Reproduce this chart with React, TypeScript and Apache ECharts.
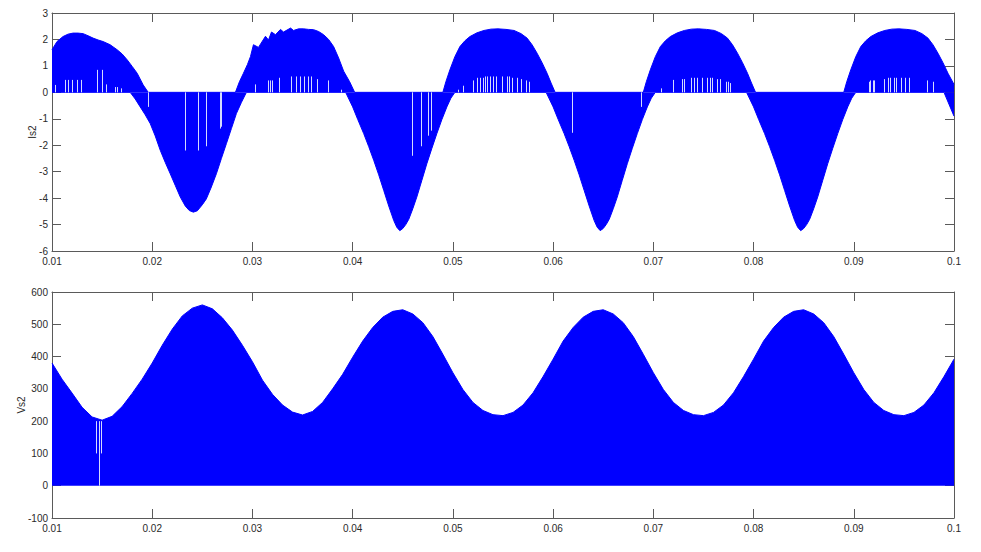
import React, { useEffect, useRef } from "react";
import * as echarts from "echarts";

// ---------- Is2 (top) : positive envelope ----------
const is2UpperT = [
  0.0100, 0.0105, 0.0111, 0.0116, 0.0121, 0.0126, 0.0131, 0.0136, 0.0141, 0.0146, 0.0151, 0.0158, 0.0165, 0.0170, 0.0175, 0.0180, 0.0185, 0.0191, 0.0196,
  0.0283, 0.0287, 0.0291, 0.0295, 0.0298, 0.0301, 0.0306, 0.0313, 0.0316, 0.0319, 0.0323, 0.0328, 0.0331, 0.0338, 0.0341, 0.0346, 0.0351, 0.0356, 0.0361, 0.0366, 0.0371, 0.0376, 0.0381, 0.0386, 0.0391, 0.0397, 0.0402,
  0.0490, 0.0493, 0.0497, 0.0502, 0.0507, 0.0512, 0.0517, 0.0524, 0.0531, 0.0538, 0.0545, 0.0553, 0.0561, 0.0568, 0.0574, 0.0579, 0.0584, 0.0589, 0.0594, 0.0598, 0.0602,
  0.0690, 0.0693, 0.0697, 0.0702, 0.0707, 0.0712, 0.0717, 0.0724, 0.0731, 0.0738, 0.0745, 0.0753, 0.0761, 0.0768, 0.0774, 0.0779, 0.0784, 0.0789, 0.0794, 0.0798, 0.0802,
  0.0890, 0.0893, 0.0897, 0.0902, 0.0907, 0.0912, 0.0917, 0.0924, 0.0931, 0.0938, 0.0945, 0.0953, 0.0961, 0.0968, 0.0974, 0.0979, 0.0984, 0.0989, 0.0994, 0.1000,
];
const is2UpperV = [
  1.61, 1.92, 2.11, 2.20, 2.24, 2.24, 2.22, 2.14, 2.05, 1.98, 1.92, 1.80, 1.61, 1.45, 1.23, 0.98, 0.72, 0.28, 0,
  0, 0.40, 0.72, 1.05, 1.35, 1.80, 1.70, 2.12, 1.98, 2.28, 2.18, 2.38, 2.28, 2.43, 2.34, 2.40, 2.40, 2.38, 2.37, 2.30, 2.18, 2.00, 1.73, 1.30, 0.80, 0.40, 0,
  0, 0.40, 0.85, 1.35, 1.73, 1.95, 2.11, 2.25, 2.34, 2.39, 2.40, 2.38, 2.34, 2.22, 2.05, 1.80, 1.48, 1.12, 0.72, 0.35, 0,
  0, 0.40, 0.85, 1.35, 1.73, 1.95, 2.11, 2.25, 2.34, 2.39, 2.40, 2.38, 2.34, 2.22, 2.05, 1.80, 1.48, 1.12, 0.72, 0.35, 0,
  0, 0.40, 0.85, 1.35, 1.73, 1.95, 2.11, 2.25, 2.34, 2.39, 2.40, 2.38, 2.34, 2.22, 2.05, 1.80, 1.48, 1.12, 0.72, 0.30,
];

// ---------- Is2 (top) : negative envelope ----------
const is2LowerT = [
  0.0100, 0.0178, 0.0183, 0.0188, 0.0193, 0.0198, 0.0203, 0.0208, 0.0213, 0.0218, 0.0223, 0.0228, 0.0233, 0.0237, 0.0241, 0.0245, 0.0250, 0.0254, 0.0259, 0.0264, 0.0269, 0.0274, 0.0279, 0.0284, 0.0289, 0.0294,
  0.0393, 0.0400, 0.0405, 0.0411, 0.0416, 0.0421, 0.0426, 0.0431, 0.0436, 0.0441, 0.0444, 0.0447, 0.0450, 0.0453, 0.0456, 0.0460, 0.0464, 0.0469, 0.0474, 0.0479, 0.0484, 0.0489, 0.0494, 0.0498, 0.0502,
  0.0593, 0.0600, 0.0605, 0.0611, 0.0616, 0.0621, 0.0626, 0.0631, 0.0636, 0.0641, 0.0644, 0.0647, 0.0650, 0.0653, 0.0656, 0.0660, 0.0664, 0.0669, 0.0674, 0.0679, 0.0684, 0.0689, 0.0694, 0.0698, 0.0702,
  0.0793, 0.0800, 0.0805, 0.0811, 0.0816, 0.0821, 0.0826, 0.0831, 0.0836, 0.0841, 0.0844, 0.0847, 0.0850, 0.0853, 0.0856, 0.0860, 0.0864, 0.0869, 0.0874, 0.0879, 0.0884, 0.0889, 0.0894, 0.0898, 0.0902,
  0.0990, 0.1000,
];
const is2LowerV = [
  0, 0, -0.25, -0.55, -0.85, -1.18, -1.65, -2.19, -2.65, -3.08, -3.52, -3.96, -4.30, -4.47, -4.53, -4.48, -4.25, -4.03, -3.58, -3.08, -2.50, -1.94, -1.37, -0.80, -0.38, 0,
  0, -0.55, -1.02, -1.56, -2.05, -2.57, -3.12, -3.71, -4.30, -4.85, -5.10, -5.23, -5.15, -5.00, -4.80, -4.40, -3.96, -3.33, -2.70, -2.12, -1.56, -1.03, -0.55, -0.22, 0,
  0, -0.55, -1.02, -1.56, -2.05, -2.57, -3.12, -3.71, -4.30, -4.85, -5.10, -5.23, -5.15, -5.00, -4.80, -4.40, -3.96, -3.33, -2.70, -2.12, -1.56, -1.03, -0.55, -0.22, 0,
  0, -0.55, -1.02, -1.56, -2.05, -2.57, -3.12, -3.71, -4.30, -4.85, -5.10, -5.23, -5.15, -5.00, -4.80, -4.40, -3.96, -3.33, -2.70, -2.12, -1.56, -1.03, -0.55, -0.22, 0,
  0, -0.90,
];

// ---------- Is2 : thin switching gaps (time, reach from 0) ----------
const is2GapT = [
  0.0103, 0.0113, 0.0116, 0.0120, 0.0125, 0.0129, 0.0145, 0.0150, 0.0154, 0.0163, 0.0165, 0.0169,
  0.0196, 0.0233, 0.0246, 0.0254, 0.0268, 0.0269,
  0.0303, 0.0316, 0.0318, 0.0320, 0.0327, 0.0339, 0.0344, 0.0348, 0.0352, 0.0356, 0.0359, 0.0365, 0.0376, 0.0389,
  0.0459, 0.0468, 0.0475, 0.0478,
  0.0505, 0.0510, 0.0520, 0.0524, 0.0527, 0.0530, 0.0532, 0.0534, 0.0537, 0.0540, 0.0543, 0.0549, 0.0554, 0.0556, 0.0559, 0.0564, 0.0568, 0.0573, 0.0576,
  0.0619, 0.0688,
  0.0708, 0.0720, 0.0729, 0.0731, 0.0738, 0.0741, 0.0744, 0.0749, 0.0754, 0.0757, 0.0759, 0.0764, 0.0767, 0.0773, 0.0775, 0.0777,
  0.0915, 0.0916, 0.0919, 0.0920, 0.0930, 0.0934, 0.0936, 0.0940, 0.0942, 0.0947, 0.0951, 0.0955, 0.0973, 0.0979,
];
const is2GapV = [
  0.28, 0.47, 0.47, 0.47, 0.47, 0.47, 0.85, 0.85, 0.30, 0.20, 0.20, 0.15,
  -0.55, -2.20, -2.20, -2.04, -1.37, -1.30,
  0.30, 0.45, 0.45, 0.45, 0.55, 0.60, 0.60, 0.60, 0.60, 0.60, 0.60, 0.50, 0.45, 0.10,
  -2.40, -2.04, -1.64, -1.45,
  0.10, 0.25, 0.45, 0.55, 0.55, 0.55, 0.60, 0.60, 0.60, 0.60, 0.60, 0.60, 0.60, 0.60, 0.55, 0.55, 0.50, 0.45, 0.40,
  -1.53, -0.55,
  0.15, 0.47, 0.50, 0.50, 0.55, 0.55, 0.55, 0.55, 0.55, 0.55, 0.55, 0.50, 0.50, 0.40, 0.40, 0.35,
  0.40, 0.45, 0.45, 0.45, 0.50, 0.55, 0.55, 0.55, 0.55, 0.55, 0.55, 0.55, 0.45, 0.40,
];

// ---------- Vs2 (bottom) : envelope ----------
const vs2T = [
  0.010, 0.011, 0.012, 0.013, 0.014, 0.015, 0.016, 0.017, 0.018, 0.019,
  0.020, 0.021, 0.022, 0.023, 0.024, 0.025, 0.026, 0.027, 0.028, 0.029,
  0.030, 0.031, 0.032, 0.033, 0.034, 0.035, 0.036, 0.037, 0.038, 0.039,
  0.040, 0.041, 0.042, 0.043, 0.044, 0.045, 0.046, 0.047, 0.048, 0.049,
  0.050, 0.051, 0.052, 0.053, 0.054, 0.055, 0.056, 0.057, 0.058, 0.059,
  0.060, 0.061, 0.062, 0.063, 0.064, 0.065, 0.066, 0.067, 0.068, 0.069,
  0.070, 0.071, 0.072, 0.073, 0.074, 0.075, 0.076, 0.077, 0.078, 0.079,
  0.080, 0.081, 0.082, 0.083, 0.084, 0.085, 0.086, 0.087, 0.088, 0.089,
  0.090, 0.091, 0.092, 0.093, 0.094, 0.095, 0.096, 0.097, 0.098, 0.099,
  0.100,
];
const vs2V = [
  380, 330, 287, 243, 213, 203, 215, 245, 286, 330,
  380, 435, 485, 526, 550, 560, 548, 520, 482, 435,
  384, 327, 283, 250, 228, 219, 230, 258, 300, 345,
  398, 448, 490, 522, 540, 545, 532, 505, 462, 407,
  350, 298, 258, 233, 220, 217, 227, 250, 288, 338,
  392, 448, 490, 522, 540, 545, 532, 505, 462, 407,
  350, 298, 258, 233, 220, 217, 227, 250, 288, 338,
  392, 448, 490, 522, 540, 545, 532, 505, 462, 407,
  350, 298, 258, 233, 220, 217, 227, 250, 288, 338,
  392,
];

// Vs2 gaps: time, from, to
const vs2GapT = [0.01446, 0.01472, 0.01496];
const vs2GapFrom = [200, 200, 200];
const vs2GapTo = [100, 0, 100];

// axes
const xMin = 0.01;
const xMax = 0.1;
const xStep = 0.01;
const is2Min = -6;
const is2Max = 3;
const is2Step = 1;
const vs2Min = -100;
const vs2Max = 600;
const vs2Step = 100;

const BLUE = "#0000ff";
const AXIS = "#5a5a5a";
const TEXT = "#2a2a2a";
const FONT = "'Liberation Sans', Arial, sans-serif";

const zip = (t: number[], v: number[]) => t.map((x, i) => [x, v[i]]);

function mkX(gridIndex: number, position: string, labels: boolean) {
  return {
    type: "value",
    gridIndex,
    position,
    min: xMin,
    max: xMax,
    interval: xStep,
    axisLine: { show: true, onZero: false, lineStyle: { color: AXIS, width: 1 } },
    axisTick: { show: true, inside: true, length: 9, lineStyle: { color: AXIS, width: 1 } },
    axisLabel: {
      show: labels,
      margin: 5,
      color: TEXT,
      fontSize: 10,
      fontFamily: FONT,
      showMinLabel: true,
      showMaxLabel: true,
      formatter: (v: number) => String(parseFloat(v.toFixed(3))),
    },
    splitLine: { show: false },
  };
}

function mkY(gridIndex: number, position: string, labels: boolean, min: number, max: number, step: number, name: string, gap: number) {
  return {
    type: "value",
    gridIndex,
    position,
    min,
    max,
    interval: step,
    name: labels ? name : "",
    nameLocation: "middle",
    nameGap: gap,
    nameMoveOverlap: false,
    nameTextStyle: { color: TEXT, fontSize: 10, fontFamily: FONT },
    axisLine: { show: true, onZero: false, lineStyle: { color: AXIS, width: 1 } },
    axisTick: { show: true, inside: true, length: 9, lineStyle: { color: AXIS, width: 1 } },
    axisLabel: {
      show: labels,
      margin: 4,
      color: TEXT,
      fontSize: 10,
      fontFamily: FONT,
      showMinLabel: true,
      showMaxLabel: true,
    },
    splitLine: { show: false },
  };
}

export default function App() {
  const ref = useRef<HTMLDivElement>(null);
  useEffect(() => {
    if (!ref.current) return;
    const chart = echarts.init(ref.current, null, { renderer: "svg" });
    const gapStyle = { color: "#d4daff", width: 1, type: "solid", opacity: 1 };
    chart.setOption({
      animation: false,
      backgroundColor: "#ffffff",
      grid: [
        { left: 52, top: 13, width: 902, height: 238 },
        { left: 52, top: 292, width: 902, height: 226 },
      ],
      xAxis: [mkX(0, "bottom", true), mkX(0, "top", false), mkX(1, "bottom", true), mkX(1, "top", false)],
      yAxis: [
        mkY(0, "left", true, is2Min, is2Max, is2Step, "Is2", 15),
        mkY(0, "right", false, is2Min, is2Max, is2Step, "", 0),
        mkY(1, "left", true, vs2Min, vs2Max, vs2Step, "Vs2", 26),
        mkY(1, "right", false, vs2Min, vs2Max, vs2Step, "", 0),
      ],
      series: [
        {
          type: "line",
          name: "Is2+",
          xAxisIndex: 0,
          yAxisIndex: 0,
          data: zip(is2UpperT, is2UpperV),
          symbol: "none",
          silent: true,
          lineStyle: { color: BLUE, width: 1 },
          areaStyle: { color: BLUE, opacity: 1 },
        },
        {
          type: "line",
          name: "Is2-",
          xAxisIndex: 0,
          yAxisIndex: 0,
          data: zip(is2LowerT, is2LowerV),
          symbol: "none",
          silent: true,
          lineStyle: { color: BLUE, width: 1 },
          areaStyle: { color: BLUE, opacity: 1 },
          markLine: {
            silent: true,
            symbol: ["none", "none"],
            label: { show: false },
            lineStyle: gapStyle,
            data: is2GapT.map((t, i) => [{ coord: [t, 0] }, { coord: [t, is2GapV[i]] }]),
          },
        },
        {
          type: "line",
          name: "Vs2",
          xAxisIndex: 2,
          yAxisIndex: 2,
          data: zip(vs2T, vs2V),
          symbol: "none",
          silent: true,
          lineStyle: { color: BLUE, width: 1 },
          areaStyle: { color: BLUE, opacity: 1 },
          markLine: {
            silent: true,
            symbol: ["none", "none"],
            label: { show: false },
            lineStyle: gapStyle,
            data: vs2GapT.map((t, i) => [{ coord: [t, vs2GapFrom[i]] }, { coord: [t, vs2GapTo[i]] }]),
          },
        },
      ],
    });
    return () => chart.dispose();
  }, []);
  return (
    <div
      ref={ref}
      style={{ position: "fixed", left: 0, top: 0, width: 981, height: 552, background: "#fff" }}
    />
  );
}
